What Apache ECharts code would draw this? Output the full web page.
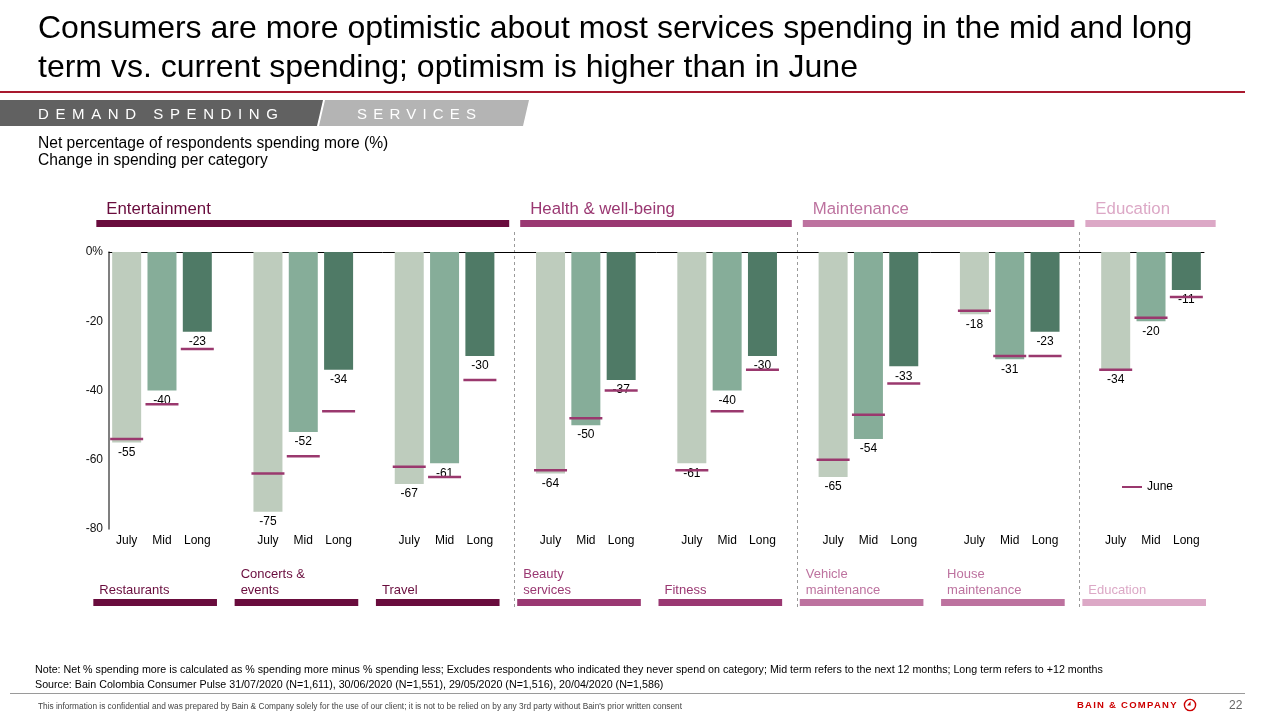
<!DOCTYPE html>
<html>
<head>
<meta charset="utf-8">
<script src="https://cdn.jsdelivr.net/npm/echarts@6/dist/echarts.min.js"></script>
<style>
  body { margin: 0; width: 1280px; height: 720px; position: relative; overflow: hidden; background: #fff;
         font-family: "Liberation Sans", Arial, sans-serif; color: #000; }
  #chart { position: absolute; left: 0; top: 0; width: 1280px; height: 720px; }
  .title { position: absolute; left: 38px; top: 8px; font-size: 32px; line-height: 39px; white-space: nowrap; }
  .rule { position: absolute; left: 0; top: 91px; width: 1245px; height: 2px; background: #A8192E; }
  .band { position: absolute; left: 0; top: 100px; }
  .sub { position: absolute; left: 38px; top: 134px; font-size: 15.6px; line-height: 17px; }
  .note { position: absolute; left: 35px; top: 662px; font-size: 10.7px; line-height: 15px; white-space: nowrap; }
  .foot-line { position: absolute; left: 10px; top: 693px; width: 1235px; height: 1px; background: #9a9a9a; }
  .conf { position: absolute; left: 38px; top: 701px; font-size: 8.3px; color: #444; white-space: nowrap;
          font-family: "Liberation Sans Narrow", "Liberation Sans", sans-serif; }
  .bain { position: absolute; left: 1077px; top: 699px; font-size: 9.5px; font-weight: bold; color: #CC0000;
          letter-spacing: 1.25px; white-space: nowrap; }
  .logo { position: absolute; left: 1183px; top: 698px; }
  .page { position: absolute; left: 1229px; top: 698px; font-size: 12px; color: #666; }
</style>
</head>
<body>
<div id="chart"></div>
<div class="title">Consumers are more optimistic about most services spending in the mid and long<br>term vs. current spending; optimism is higher than in June</div>
<div class="rule"></div>
<svg class="band" width="540" height="27">
  <polygon points="0,0 323,0 317,26 0,26" fill="#616161"/>
  <polygon points="325,0 529,0 523,26 319,26" fill="#B4B4B4"/>
  <text x="38" y="19" fill="#fff" font-size="15" style="letter-spacing:6.6px">DEMAND SPENDING</text>
  <text x="357" y="19" fill="#fff" font-size="15" style="letter-spacing:6.2px">SERVICES</text>
</svg>
<div class="sub">Net percentage of respondents spending more (%)<br>Change in spending per category</div>
<div class="note">Note: Net % spending more is calculated as % spending more minus % spending less; Excludes respondents who indicated they never spend on category; Mid term refers to the next 12 months; Long term refers to +12 months<br>Source: Bain Colombia Consumer Pulse 31/07/2020 (N=1,611), 30/06/2020 (N=1,551), 29/05/2020 (N=1,516), 20/04/2020 (N=1,586)</div>
<div class="foot-line"></div>
<div class="conf">This information is confidential and was prepared by Bain &amp; Company solely for the use of our client; it is not to be relied on by any 3rd party without Bain's prior written consent</div>
<div class="bain">BAIN &amp; COMPANY</div>
<svg class="logo" width="14" height="14">
  <circle cx="7" cy="7" r="5.6" fill="none" stroke="#CC0000" stroke-width="1.4"/>
  <polygon points="7.6,3.2 7.6,7.6 4.2,7.6" fill="#CC0000"/>
</svg>
<div class="page">22</div>

<script>
const groups = ['Restaurants', 'Concerts &\nevents', 'Travel', 'Beauty\nservices', 'Fitness',
                'Vehicle\nmaintenance', 'House\nmaintenance', 'Education'];
const groupSector = [0, 0, 0, 1, 1, 2, 2, 3];
const sectors = ['Entertainment', 'Health & well-being', 'Maintenance', 'Education'];
const sectorColors = ['#690C3D', '#9A3872', '#BD729F', '#DCA8C6'];
const terms = ['July', 'Mid', 'Long'];
const termColors = ['#BECCBD', '#86AD99', '#4F7A66'];

// current wave (July) and outlooks
const julyVals = [-55, -75, -67, -64, -61, -65, -18, -34];
const midVals  = [-40, -52, -61, -50, -40, -54, -31, -20];
const longVals = [-23, -34, -30, -37, -30, -33, -23, -11];
// June wave, same order
const juneJuly = [-54, -64, -62, -63, -63, -60, -17, -34];
const juneMid  = [-44, -59, -65, -48, -46, -47, -30, -19];
const juneLong = [-28, -46, -37, -40, -34, -38, -30, -13];

const yTicks = [-80, -60, -40, -20, 0];

// each group takes 4 slots on the category axis: July, Mid, Long, gap
const nSlots = groups.length * 4 - 1;
const xCats = [];
for (let i = 0; i < nSlots; i++) xCats.push(i % 4 < 3 ? terms[i % 4] : '');

function spread(vals, t) {
    const out = new Array(nSlots).fill('-');
    vals.forEach(function (v, g) { out[g * 4 + t] = v; });
    return out;
}
const juneData = [];
[juneJuly, juneMid, juneLong].forEach(function (vals, t) {
    vals.forEach(function (v, g) { juneData.push([g * 4 + t, v]); });
});

const chart = echarts.init(document.getElementById('chart'));
const barSeries = [julyVals, midVals, longVals].map(function (vals, t) {
    return {
        name: terms[t],
        type: 'bar',
        data: spread(vals, t),
        barWidth: 29,
        barGap: '-100%',
        itemStyle: { color: termColors[t] },
        label: { show: true, position: 'bottom', distance: 4, fontSize: 12, color: '#000',
                 fontFamily: 'Liberation Sans' }
    };
});

chart.setOption({
    animation: false,
    textStyle: { fontFamily: 'Liberation Sans' },
    grid: { left: 109, right: 76, top: 252, bottom: 191 },
    legend: {
        data: ['June'], left: 1117, top: 476, icon: 'rect', itemWidth: 20, itemHeight: 2,
        textStyle: { fontSize: 12, color: '#000' }
    },
    xAxis: [
        { type: 'category', data: xCats, position: 'bottom',
          axisLine: { show: false, onZero: false }, axisTick: { show: false },
          axisLabel: { interval: 0, margin: 6, fontSize: 12, color: '#000' } },
        { type: 'category', data: xCats, position: 'top',
          axisLine: { show: true, lineStyle: { color: '#000', width: 1 } }, axisTick: { show: false },
          axisLabel: { show: false } }
    ],
    yAxis: {
        type: 'value', min: yTicks[0], max: yTicks[yTicks.length - 1], interval: 20,
        axisLine: { show: true, lineStyle: { color: '#555', width: 1.5 } },
        axisTick: { show: false }, splitLine: { show: false },
        axisLabel: { fontSize: 12, color: '#111', margin: 6,
                     formatter: function (v) { return v === 0 ? '0%' : String(v); } }
    },
    series: barSeries.concat([{
        name: 'June', type: 'scatter', symbol: 'rect', symbolSize: [33, 2.5],
        itemStyle: { color: '#9A386E', opacity: 1 }, z: 5, data: juneData
    }])
});

// decorations placed from the axis scale
const x0 = chart.convertToPixel({ xAxisIndex: 0 }, 0);
const pitch = chart.convertToPixel({ xAxisIndex: 0 }, 1) - x0;
function sepX(g) { return x0 + (g * 4 - 1) * pitch; }

const graphic = [];
// sector headers
sectors.forEach(function (name, s) {
    const first = groupSector.indexOf(s);
    const last = groupSector.lastIndexOf(s);
    const xa = sepX(first) + 5, xb = sepX(last + 1) - 6;
    graphic.push({ type: 'rect', shape: { x: xa, y: 220, width: xb - xa, height: 7 },
                   style: { fill: sectorColors[s] } });
    graphic.push({ type: 'text', x: sepX(first) + 15, y: 209,
                   style: { text: name, fill: sectorColors[s], fontSize: 16.8, verticalAlign: 'middle',
                            fontFamily: 'Liberation Sans' } });
});
// dashed separators between sectors
[3, 5, 7].forEach(function (g) {
    const x = Math.round(sepX(g)) - 0.5;
    graphic.push({ type: 'line', shape: { x1: x, y1: 232, x2: x, y2: 607 },
                   style: { stroke: '#9a9a9a', lineWidth: 1, lineDash: [3, 3] } });
});
// group labels under the axis
groups.forEach(function (name, g) {
    const c = sectorColors[groupSector[g]];
    graphic.push({ type: 'rect', shape: { x: sepX(g) + 2, y: 599, width: 3.5 * pitch, height: 7 },
                   style: { fill: c } });
    graphic.push({ type: 'text', x: sepX(g) + 8, y: 598,
                   style: { text: name, fill: c, fontSize: 13, lineHeight: 16, verticalAlign: 'bottom',
                            fontFamily: 'Liberation Sans' } });
});
chart.setOption({ graphic: graphic });
</script>
</body>
</html>
